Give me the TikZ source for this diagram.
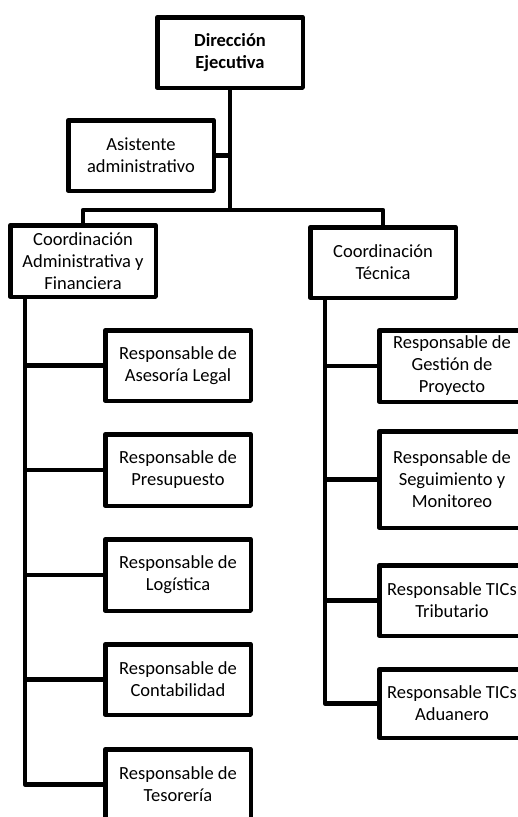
\documentclass[tikz,border=0pt]{standalone}
\usepackage{fontspec}
\setmainfont{Carlito}
\begin{document}
\begin{tikzpicture}[x=1pt,y=-1pt,
  orgbox/.style={draw, line width=4.5pt, line join=round, rectangle,
    minimum width=145.5pt, minimum height=70.5pt, inner sep=0pt,
    align=center, font=\fontsize{18.5}{22}\selectfont, fill=white},
  link/.style={line width=4.5pt, line join=round}]
  \clip (0,0) rectangle (518,817);
  \fill[white] (0,0) rectangle (518,817);

  % trunk positions
  \coordinate (lx) at (25,0);
  \coordinate (rx) at (325,0);
  \coordinate (bar) at (0,210);

  % top level
  \node[orgbox, font=\fontsize{18.5}{22}\selectfont\bfseries] (dir) at (230,52.5) {Dirección\\Ejecutiva};
  \node[orgbox] (asis) at (141,155.5) {Asistente\\administrativo};

  % coordinations
  \node[orgbox, minimum height=71.5pt] (caf) at (83,261) {Coordinación\\Administrativa y\\Financiera};
  \node[orgbox] (ct) at (383,262.5) {Coordinación\\Técnica};

  % administrative and financial units
  \node[orgbox] (legal) at (178,365.5) {Responsable de\\Asesoría Legal};
  \node[orgbox, minimum height=71.5pt] (presu) at (178,470) {Responsable de\\Presupuesto};
  \node[orgbox, minimum height=71.5pt] (logi) at (178,575) {Responsable de\\Logística};
  \node[orgbox] (conta) at (178,679.5) {Responsable de\\Contabilidad};
  \node[orgbox] (teso) at (178,784.5) {Responsable de\\Tesorería};

  % technical units
  \node[orgbox, minimum height=71.5pt] (gest) at (452,366) {Responsable de\\Gestión de\\Proyecto};
  \node[orgbox, minimum height=96.5pt] (segu) at (452,479.5) {Responsable de\\Seguimiento y\\Monitoreo};
  \node[orgbox] (trib) at (452,600.5) {Responsable TICs\\Tributario};
  \node[orgbox, minimum height=68.5pt] (adua) at (452,703.5) {Responsable TICs\\Aduanero};

  % connectors
  \draw[link] (dir.south) -- (dir.south |- bar);
  \draw[link] (asis.east) -- (asis.east -| dir.south);
  \draw[link] (caf.north) |- (bar -| dir.south);
  \draw[link] (ct.north) |- (bar -| dir.south);

  \draw[link] (caf.south -| lx) |- (teso.west);
  \foreach \n in {legal,presu,logi,conta}
    \draw[link] (\n.west -| lx) -- (\n.west);

  \draw[link] (ct.south -| rx) |- (adua.west);
  \foreach \n in {gest,segu,trib}
    \draw[link] (\n.west -| rx) -- (\n.west);
\end{tikzpicture}
\end{document}
